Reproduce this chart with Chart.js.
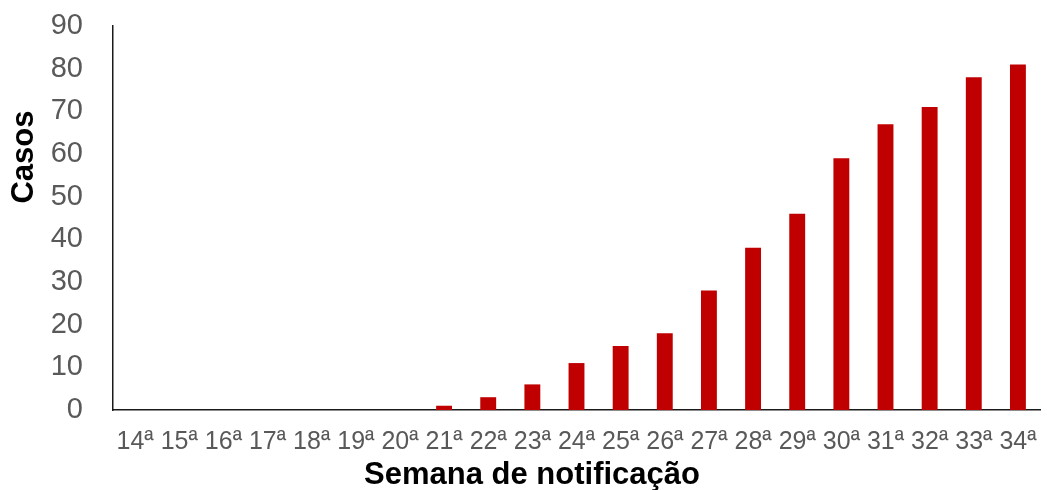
<!DOCTYPE html>
<html>
<head>
<meta charset="utf-8">
<script src="https://cdn.jsdelivr.net/npm/chart.js@4"></script>
<style>
  html, body { margin: 0; padding: 0; background: #fff; }
  #wrap { width: 1047px; height: 490px; position: relative; }
</style>
</head>
<body>
<div id="wrap"><canvas id="c" width="1047" height="490"></canvas></div>
<script>
const categories = ["14ª","15ª","16ª","17ª","18ª","19ª","20ª","21ª","22ª","23ª","24ª","25ª","26ª","27ª","28ª","29ª","30ª","31ª","32ª","33ª","34ª"];
const casos = [0,0,0,0,0,0,0,1,3,6,11,15,18,28,38,46,59,67,71,78,81];
const yTicks = [0,10,20,30,40,50,60,70,80,90];
const yTitle = "Casos";
const xTitle = "Semana de notificação";

const FONT = "'Liberation Sans', Arial, sans-serif";

const titlesPlugin = {
  id: 'titles',
  afterDraw(chart) {
    const ctx = chart.ctx;
    ctx.save();
    ctx.fillStyle = '#000';
    ctx.font = "bold 31px " + FONT;
    ctx.textAlign = 'center';
    ctx.textBaseline = 'alphabetic';
    ctx.fillText(xTitle, 532, 484);
    ctx.translate(33, 157);
    ctx.rotate(-Math.PI / 2);
    ctx.fillText(yTitle, 0, 0);
    ctx.restore();
  }
};

new Chart(document.getElementById('c'), {
  type: 'bar',
  data: {
    labels: categories,
    datasets: [{
      data: casos,
      backgroundColor: '#C00000',
      borderWidth: 0,
      categoryPercentage: 1,
      barPercentage: 0.36
    }]
  },
  options: {
    responsive: false,
    animation: false,
    devicePixelRatio: 1,
    layout: { padding: { left: 0, right: 7, top: 26, bottom: 0 } },
    plugins: { legend: { display: false }, tooltip: { enabled: false } },
    scales: {
      x: {
        grid: { display: false, drawTicks: false },
        border: { display: true, color: '#1a1a1a', width: 1.5 },
        ticks: {
          color: '#595959',
          font: { family: FONT, size: 25 },
          padding: 17,
          autoSkip: false,
          maxRotation: 0,
          minRotation: 0
        },
        afterFit(scale) {
          scale.height = 80;
          scale.paddingLeft = 0;
          scale.paddingRight = 0;
        }
      },
      y: {
        min: 0,
        max: 90,
        afterBuildTicks(scale) { scale.ticks = yTicks.map(v => ({ value: v })); },
        grid: { display: false, drawTicks: false },
        border: { display: true, color: '#1a1a1a', width: 1.5 },
        ticks: {
          color: '#595959',
          font: { family: FONT, size: 29 },
          padding: 30
        },
        afterFit(scale) {
          scale.width = 113;
          scale.paddingTop = 0;
          scale.paddingBottom = 0;
        }
      }
    }
  },
  plugins: [titlesPlugin]
});
</script>
</body>
</html>
